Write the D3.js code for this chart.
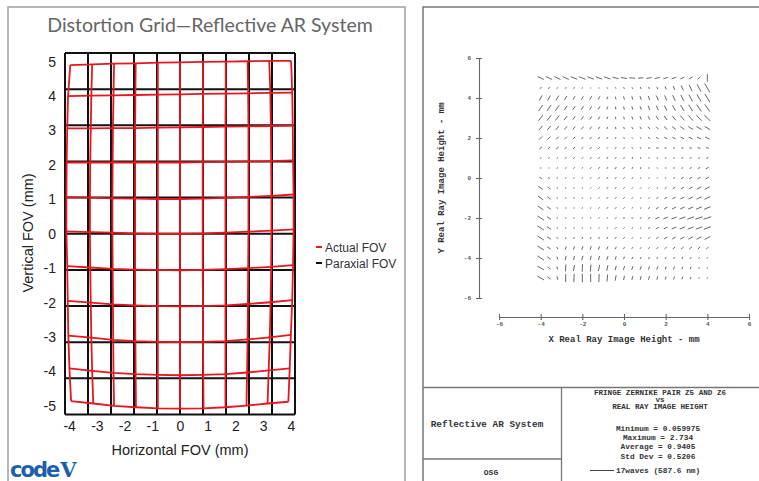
<!DOCTYPE html>
<html><head><meta charset="utf-8">
<script src="https://cdn.jsdelivr.net/npm/d3@7"></script>
<style>body{margin:0;background:#fff}svg{display:block}</style>
</head><body>
<svg id="c" width="759" height="481"></svg>
<script>
// ---------- LEFT CHART DATA ----------
const paraxialX = [-4.15,-3.32,-2.49,-1.66,-0.83,0,0.83,1.66,2.49,3.32,4.15];
const paraxialY = [5.25,4.2,3.15,2.1,1.05,0,-1.05,-2.1,-3.15,-4.2,-5.25];
const xTicks = [-4,-3,-2,-1,0,1,2,3,4];
const yTicks = [-5,-4,-3,-2,-1,0,1,2,3,4,5];
// actual (distorted) grid: x of each column at each row (top->bottom)
const actualColX = [
  [-3.96,-4.04,-4.07,-4.09,-4.10,-4.10,-4.07,-4.05,-4.03,-3.99,-3.93],
  [-3.17,-3.20,-3.22,-3.24,-3.25,-3.25,-3.24,-3.22,-3.20,-3.17,-3.13],
  [-2.38,-2.40,-2.42,-2.43,-2.44,-2.44,-2.43,-2.42,-2.41,-2.40,-2.38],
  [-1.60,-1.61,-1.62,-1.62,-1.62,-1.62,-1.62,-1.62,-1.61,-1.60,-1.59],
  [-0.80,-0.80,-0.80,-0.80,-0.80,-0.80,-0.80,-0.80,-0.80,-0.80,-0.80],
  [0.00,0.00,0.00,0.00,0.00,0.00,0.00,0.00,0.00,0.00,0.00],
  [0.83,0.83,0.82,0.82,0.82,0.82,0.82,0.83,0.83,0.84,0.85],
  [1.65,1.65,1.64,1.64,1.64,1.64,1.64,1.64,1.64,1.64,1.64],
  [2.44,2.46,2.47,2.47,2.47,2.47,2.46,2.45,2.44,2.42,2.40],
  [3.22,3.26,3.28,3.29,3.30,3.30,3.29,3.27,3.24,3.20,3.16],
  [4.01,4.05,4.07,4.08,4.10,4.10,4.08,4.05,4.00,3.96,3.91]
];
// y of each row at each column (left->right)
const actualRowY = [
  [4.90,4.92,4.94,4.95,4.97,4.98,4.99,5.00,5.01,5.02,5.02],
  [4.00,4.01,4.02,4.03,4.04,4.05,4.06,4.07,4.08,4.09,4.10],
  [3.06,3.06,3.07,3.07,3.08,3.09,3.10,3.11,3.12,3.13,3.14],
  [2.07,2.07,2.07,2.07,2.07,2.07,2.08,2.09,2.10,2.11,2.13],
  [1.06,1.05,1.03,1.02,1.01,1.01,1.02,1.04,1.07,1.10,1.14],
  [0.07,0.05,0.03,0.01,0.00,0.00,0.01,0.03,0.06,0.09,0.13],
  [-0.94,-0.98,-1.02,-1.04,-1.05,-1.06,-1.05,-1.03,-1.00,-0.96,-0.91],
  [-1.95,-2.00,-2.05,-2.08,-2.10,-2.11,-2.10,-2.08,-2.04,-1.99,-1.93],
  [-2.96,-3.02,-3.08,-3.12,-3.14,-3.15,-3.14,-3.12,-3.07,-3.01,-2.94],
  [-3.91,-3.98,-4.04,-4.08,-4.10,-4.11,-4.10,-4.08,-4.03,-3.97,-3.91],
  [-4.86,-4.93,-5.00,-5.04,-5.07,-5.08,-5.07,-5.04,-4.99,-4.93,-4.88]
];
const legendItems = [{name:"Actual FOV", color:"#e8161e"},{name:"Paraxial FOV", color:"#111"}];

// ---------- RIGHT CHART DATA ----------
const fieldX = [-4,-3.6,-3.2,-2.8,-2.4,-2,-1.6,-1.2,-0.8,-0.4,0,0.4,0.8,1.2,1.6,2,2.4,2.8,3.2,3.6,4];
const fieldY = [5,4.5,4,3.5,3,2.5,2,1.5,1,0.5,0,-0.5,-1,-1.5,-2,-2.5,-3,-3.5,-4,-4.5,-5];
const axisTicksR = [-6,-4,-2,0,2,4,6];
const fieldAngle = [
  [-25,-25,-25,-25,-22,-22,-20,-20,-18,-15,-10,-5,5,10,15,20,20,25,30,40,90],
  [30,30,30,30,30,30,0,0,-60,-60,-65,-65,-65,-70,-70,-70,-68,-65,-65,-62,-60],
  [60,60,60,58,58,58,60,62,70,-75,-72,-72,-70,-70,-68,-68,-66,-64,-62,-60,-58],
  [55,55,55,55,55,58,60,62,70,-80,-75,-72,-70,-68,-66,-64,-62,-60,-58,-56,-55],
  [52,52,52,52,55,55,58,62,70,-80,-72,-70,-66,-62,-58,-55,-52,-50,-48,-46,-45],
  [50,50,50,50,50,52,55,60,65,-80,-70,-60,-55,-50,-45,-40,-38,-35,-32,-30,-30],
  [45,45,45,45,45,48,50,55,60,70,-70,-50,-40,-35,-30,-28,-25,-25,-25,-25,-25],
  [40,40,40,40,40,42,45,45,50,60,70,-30,-20,-15,-10,-10,-10,-15,-15,-15,-15],
  [30,35,40,40,45,45,50,50,55,60,70,80,-80,-60,-30,0,10,10,15,20,20],
  [0,0,30,35,40,45,50,50,55,55,60,70,80,90,-60,0,10,15,20,25,30],
  [-35,-30,-20,30,40,45,50,50,55,55,55,60,60,60,50,40,30,30,30,30,30],
  [-35,-35,-30,0,30,40,45,50,50,55,55,55,50,45,40,35,30,30,30,28,28],
  [-35,-35,-30,0,20,30,40,45,50,50,50,50,45,40,35,30,28,25,25,25,25],
  [-35,-35,-30,0,20,30,40,45,50,50,50,45,40,35,30,28,25,25,22,22,22],
  [-33,-33,-30,0,0,20,30,40,45,45,0,0,20,30,25,22,20,20,20,18,18],
  [-33,-33,-30,0,0,20,30,40,45,45,45,40,35,30,28,25,22,22,22,20,20],
  [-33,-33,-40,60,60,65,65,65,60,55,55,50,45,40,35,30,30,28,28,28,28],
  [-33,-35,-60,70,70,72,72,70,65,60,60,55,50,45,45,40,40,40,40,40,40],
  [-33,-35,-70,78,75,75,75,75,70,70,65,60,60,60,60,60,60,60,55,50,50],
  [-30,-35,-75,85,80,88,85,80,78,75,72,70,70,70,70,70,70,68,65,60,60],
  [-30,-35,-75,88,88,90,90,88,85,80,78,75,75,75,75,72,72,70,65,60,60]
];
const fieldMag = [
  [0.9,0.9,0.9,0.9,0.9,0.9,0.9,0.85,0.85,0.8,0.75,0.7,0.65,0.65,0.65,0.6,0.6,0.55,0.5,0.4,1.0],
  [0.2,0.2,0.15,0.15,0.15,0.1,0.05,0.05,0.1,0.12,0.15,0.15,0.2,0.2,0.25,0.35,0.5,0.7,0.9,1.1,1.4],
  [0.8,0.75,0.7,0.55,0.5,0.45,0.45,0.4,0.3,0.3,0.35,0.4,0.45,0.5,0.6,0.7,0.8,0.9,1.0,1.1,1.3],
  [1.0,0.95,0.85,0.65,0.55,0.5,0.45,0.4,0.3,0.3,0.35,0.4,0.45,0.55,0.6,0.7,0.8,0.9,1.0,1.1,1.2],
  [0.95,0.9,0.8,0.6,0.5,0.45,0.4,0.35,0.25,0.25,0.3,0.35,0.4,0.45,0.5,0.6,0.7,0.8,0.9,1.0,1.1],
  [0.7,0.65,0.6,0.5,0.45,0.4,0.35,0.3,0.2,0.2,0.2,0.25,0.3,0.35,0.4,0.5,0.55,0.6,0.7,0.75,0.8],
  [0.55,0.5,0.45,0.4,0.35,0.3,0.3,0.25,0.2,0.15,0.15,0.15,0.2,0.25,0.3,0.35,0.4,0.45,0.5,0.55,0.6],
  [0.4,0.35,0.35,0.3,0.3,0.25,0.25,0.2,0.15,0.15,0.15,0.12,0.15,0.2,0.25,0.2,0.15,0.2,0.25,0.3,0.3],
  [0.15,0.15,0.15,0.2,0.2,0.2,0.2,0.2,0.2,0.15,0.15,0.15,0.12,0.12,0.12,0.12,0.12,0.15,0.15,0.15,0.2],
  [0.1,0.05,0.12,0.15,0.15,0.15,0.18,0.2,0.2,0.25,0.2,0.15,0.15,0.1,0.08,0.1,0.15,0.15,0.2,0.25,0.35],
  [0.35,0.2,0.1,0.1,0.12,0.15,0.15,0.18,0.2,0.2,0.15,0.15,0.12,0.12,0.1,0.12,0.15,0.3,0.35,0.4,0.45],
  [0.7,0.45,0.12,0.08,0.1,0.12,0.12,0.15,0.2,0.2,0.15,0.12,0.12,0.12,0.15,0.2,0.3,0.4,0.5,0.6,0.7],
  [0.8,0.5,0.12,0.08,0.1,0.1,0.12,0.15,0.2,0.2,0.18,0.15,0.15,0.15,0.2,0.3,0.4,0.5,0.6,0.7,0.8],
  [0.9,0.55,0.12,0.08,0.08,0.1,0.12,0.15,0.18,0.2,0.15,0.15,0.15,0.2,0.3,0.4,0.5,0.6,0.7,0.8,0.9],
  [1.0,0.6,0.12,0.08,0.08,0.08,0.1,0.12,0.15,0.2,0.15,0.15,0.15,0.3,0.5,0.6,0.7,0.8,0.9,1.0,1.1],
  [1.0,0.6,0.12,0.08,0.08,0.08,0.1,0.12,0.15,0.2,0.15,0.15,0.15,0.2,0.4,0.5,0.6,0.7,0.8,0.9,1.0],
  [1.0,0.55,0.2,0.15,0.18,0.2,0.2,0.2,0.2,0.2,0.18,0.15,0.15,0.18,0.3,0.4,0.5,0.6,0.65,0.7,0.8],
  [1.0,0.5,0.25,0.4,0.4,0.45,0.45,0.4,0.35,0.3,0.2,0.18,0.18,0.2,0.25,0.3,0.35,0.4,0.4,0.35,0.3],
  [1.0,0.5,0.3,0.5,0.5,0.55,0.55,0.5,0.45,0.4,0.3,0.25,0.22,0.22,0.2,0.2,0.2,0.25,0.2,0.15,0.15],
  [1.0,0.45,0.35,0.9,0.8,1.0,0.9,0.8,0.7,0.55,0.45,0.45,0.45,0.4,0.4,0.35,0.35,0.3,0.25,0.15,0.12],
  [1.0,0.45,0.4,1.05,1.1,1.15,1.1,1.05,0.9,0.7,0.5,0.45,0.45,0.45,0.4,0.35,0.35,0.3,0.2,0.12,0.1]
];
const titleLines = ["FRINGE ZERNIKE PAIR Z5 AND Z6","vs","REAL RAY IMAGE HEIGHT"];
const statLines = ["Minimum = 0.059975","Maximum = 2.734","Average = 0.9405","Std Dev = 0.5206"];
const scaleLabel = "17waves (587.6 nm)";

// ---------- DRAW ----------
const svg = d3.select("#c");
const mono = "'Liberation Mono','DejaVu Sans Mono',monospace";
const sans = "'Liberation Sans',Arial,sans-serif";

// panel frames
svg.append("rect").attr("x",8).attr("y",7).attr("width",397).attr("height",500)
  .attr("fill","none").attr("stroke","#a0a0a0").attr("stroke-width",1.5);
svg.append("path").attr("d","M423,490V7H762").attr("fill","none").attr("stroke","#777").attr("stroke-width",1.5);

// LEFT
svg.append("text").attr("x",210).attr("y",32).attr("text-anchor","middle")
  .attr("font-family","Lato,'Open Sans',sans-serif").attr("font-size",19.5).attr("fill","#666")
  .text("Distortion Grid\u2014Reflective AR System");

const x = d3.scaleLinear().domain([-4.15,4.15]).range([65,295]);
const y = d3.scaleLinear().domain([-5.25,5.25]).range([414.5,53]);

const gL = svg.append("g");
// paraxial grid
gL.selectAll("line.vx").data(paraxialX).join("line")
  .attr("x1",d=>x(d)).attr("x2",d=>x(d)).attr("y1",y(-5.25)).attr("y2",y(5.25))
  .attr("stroke","#111").attr("stroke-width",2);
gL.selectAll("line.hy").data(paraxialY).join("line").attr("class","hy")
  .attr("y1",d=>y(d)).attr("y2",d=>y(d)).attr("x1",x(-4.15)).attr("x2",x(4.15))
  .attr("stroke","#111").attr("stroke-width",2);
// actual grid
const line = d3.line().x(d=>x(d[0])).y(d=>y(d[1]));
const rowsPts = actualRowY.map((row,r)=>row.map((yy,c)=>[actualColX[c][r], yy]));
const colsPts = actualColX.map((col,c)=>col.map((xx,r)=>[xx, actualRowY[r][c]]));
gL.selectAll("path.ar").data(rowsPts.concat(colsPts)).join("path")
  .attr("d",line).attr("fill","none").attr("stroke","#e8161e").attr("stroke-width",1.8);

// axes
const ax = svg.append("g").attr("transform",`translate(0,${y(-5.25)})`)
  .call(d3.axisBottom(x).tickValues(xTicks).tickSize(0).tickPadding(7).tickFormat(d3.format("d")));
const ay = svg.append("g").attr("transform",`translate(${x(-4.15)},0)`)
  .call(d3.axisLeft(y).tickValues(yTicks).tickSize(0).tickPadding(9).tickFormat(d3.format("d")));
[ax,ay].forEach(g=>{g.select(".domain").remove();
  g.selectAll("text").attr("font-family",sans).attr("font-size",14).attr("fill","#222");});
ax.selectAll("text").text(d=>d<0?"-"+Math.abs(d):d);
ay.selectAll("text").text(d=>d<0?"-"+Math.abs(d):d);

svg.append("text").attr("x",180).attr("y",455).attr("text-anchor","middle")
  .attr("font-family",sans).attr("font-size",14.5).attr("fill","#222").text("Horizontal FOV (mm)");
svg.append("text").attr("transform","translate(33,233) rotate(-90)").attr("text-anchor","middle")
  .attr("font-family",sans).attr("font-size",14.5).attr("fill","#222").text("Vertical FOV (mm)");

// legend
const lg = svg.append("g").attr("transform","translate(316,247)");
legendItems.forEach((it,i)=>{
  const g = lg.append("g").attr("transform",`translate(0,${i*16})`);
  g.append("line").attr("x1",0).attr("x2",6).attr("stroke",it.color).attr("stroke-width",2);
  g.append("text").attr("x",9).attr("y",4.5).attr("font-family",sans).attr("font-size",12)
    .attr("fill","#333").text(it.name);
});

// code V logo
const logo = svg.append("text").attr("x",10).attr("y",477).attr("fill","#1d5fae")
  .attr("font-family","'DejaVu Sans',sans-serif").attr("font-weight","bold").attr("font-size",21);
logo.append("tspan").attr("letter-spacing",-2).text("code");
logo.append("tspan").attr("font-family","'DejaVu Serif',serif").attr("dx",2).text("V");

// RIGHT
const xs = d3.scaleLinear().domain([-6,6]).range([499,749]);
const ys = d3.scaleLinear().domain([-6,6]).range([298,58]);
const gY = svg.append("g").attr("transform",`translate(479,0)`)
  .call(d3.axisLeft(ys).tickValues(axisTicksR).tickSize(3).tickSizeOuter(0).tickPadding(5));
gY.selectAll(".tick line").attr("x1",3);
const gX = svg.append("g").attr("transform",`translate(0,317)`)
  .call(d3.axisBottom(xs).tickValues(axisTicksR).tickSize(3).tickSizeOuter(0).tickPadding(2));
gX.selectAll(".tick line").attr("y1",-3);
[gX,gY].forEach(g=>{
  g.select(".domain").attr("stroke","#666").attr("stroke-width",1.1);
  g.selectAll(".tick line").attr("stroke","#666").attr("stroke-width",1.1);
  g.selectAll("text").attr("font-family",mono).attr("font-weight","bold").attr("font-size",6).attr("fill","#555")
    .text(d=>d<0?"-"+Math.abs(d):d);
});
svg.append("text").attr("x",624).attr("y",342).attr("text-anchor","middle")
  .attr("font-family",mono).attr("font-weight","bold").attr("font-size",9).attr("fill","#333")
  .text("X Real Ray Image Height - mm");
svg.append("text").attr("transform","translate(444,178) rotate(-90)").attr("text-anchor","middle")
  .attr("font-family",mono).attr("font-weight","bold").attr("font-size",9).attr("fill","#333")
  .text("Y Real Ray Image Height - mm");

// vectors
const vec = [];
fieldY.forEach((fy,r)=>fieldX.forEach((fx,c)=>vec.push({fx,fy,a:fieldAngle[r][c],m:fieldMag[r][c]})));
const pxPerWave = 6.8;
svg.append("g").selectAll("line").data(vec).join("line")
  .each(function(d){
    const h = d.m*pxPerWave/2, rad = d.a*Math.PI/180;
    const dx = Math.cos(rad)*h, dy = -Math.sin(rad)*h;
    d3.select(this).attr("x1",xs(d.fx)-dx).attr("y1",ys(d.fy)-dy)
      .attr("x2",xs(d.fx)+dx).attr("y2",ys(d.fy)+dy);
  })
  .attr("stroke","#555").attr("stroke-width",0.9).attr("stroke-linecap","round");

// table
svg.append("path").attr("d","M423,387.5H762M561.5,387.5V490M423,459H561.5")
  .attr("fill","none").attr("stroke","#777").attr("stroke-width",1.3);
svg.append("text").attr("x",487).attr("y",427).attr("text-anchor","middle")
  .attr("font-family",mono).attr("font-weight","bold").attr("font-size",9.4).attr("fill","#333")
  .text("Reflective AR System");
svg.append("text").attr("x",491).attr("y",475).attr("text-anchor","middle")
  .attr("font-family",mono).attr("font-weight","bold").attr("font-size",8).attr("fill","#333").text("OSG");
titleLines.forEach((t,i)=>svg.append("text").attr("x",660).attr("y",395+i*7.2).attr("text-anchor","middle")
  .attr("font-family",mono).attr("font-weight","bold").attr("font-size",7.6).attr("fill","#333").text(t));
statLines.forEach((t,i)=>svg.append("text").attr("x",658).attr("y",431+i*9.2).attr("text-anchor","middle")
  .attr("font-family",mono).attr("font-weight","bold").attr("font-size",7.8).attr("fill","#333").text(t));
svg.append("line").attr("x1",590).attr("x2",614).attr("y1",470.5).attr("y2",470.5).attr("stroke","#444").attr("stroke-width",1);
svg.append("text").attr("x",616).attr("y",473).attr("font-family",mono).attr("font-weight","bold")
  .attr("font-size",7.8).attr("fill","#333").text(scaleLabel);
</script>
</body></html>
